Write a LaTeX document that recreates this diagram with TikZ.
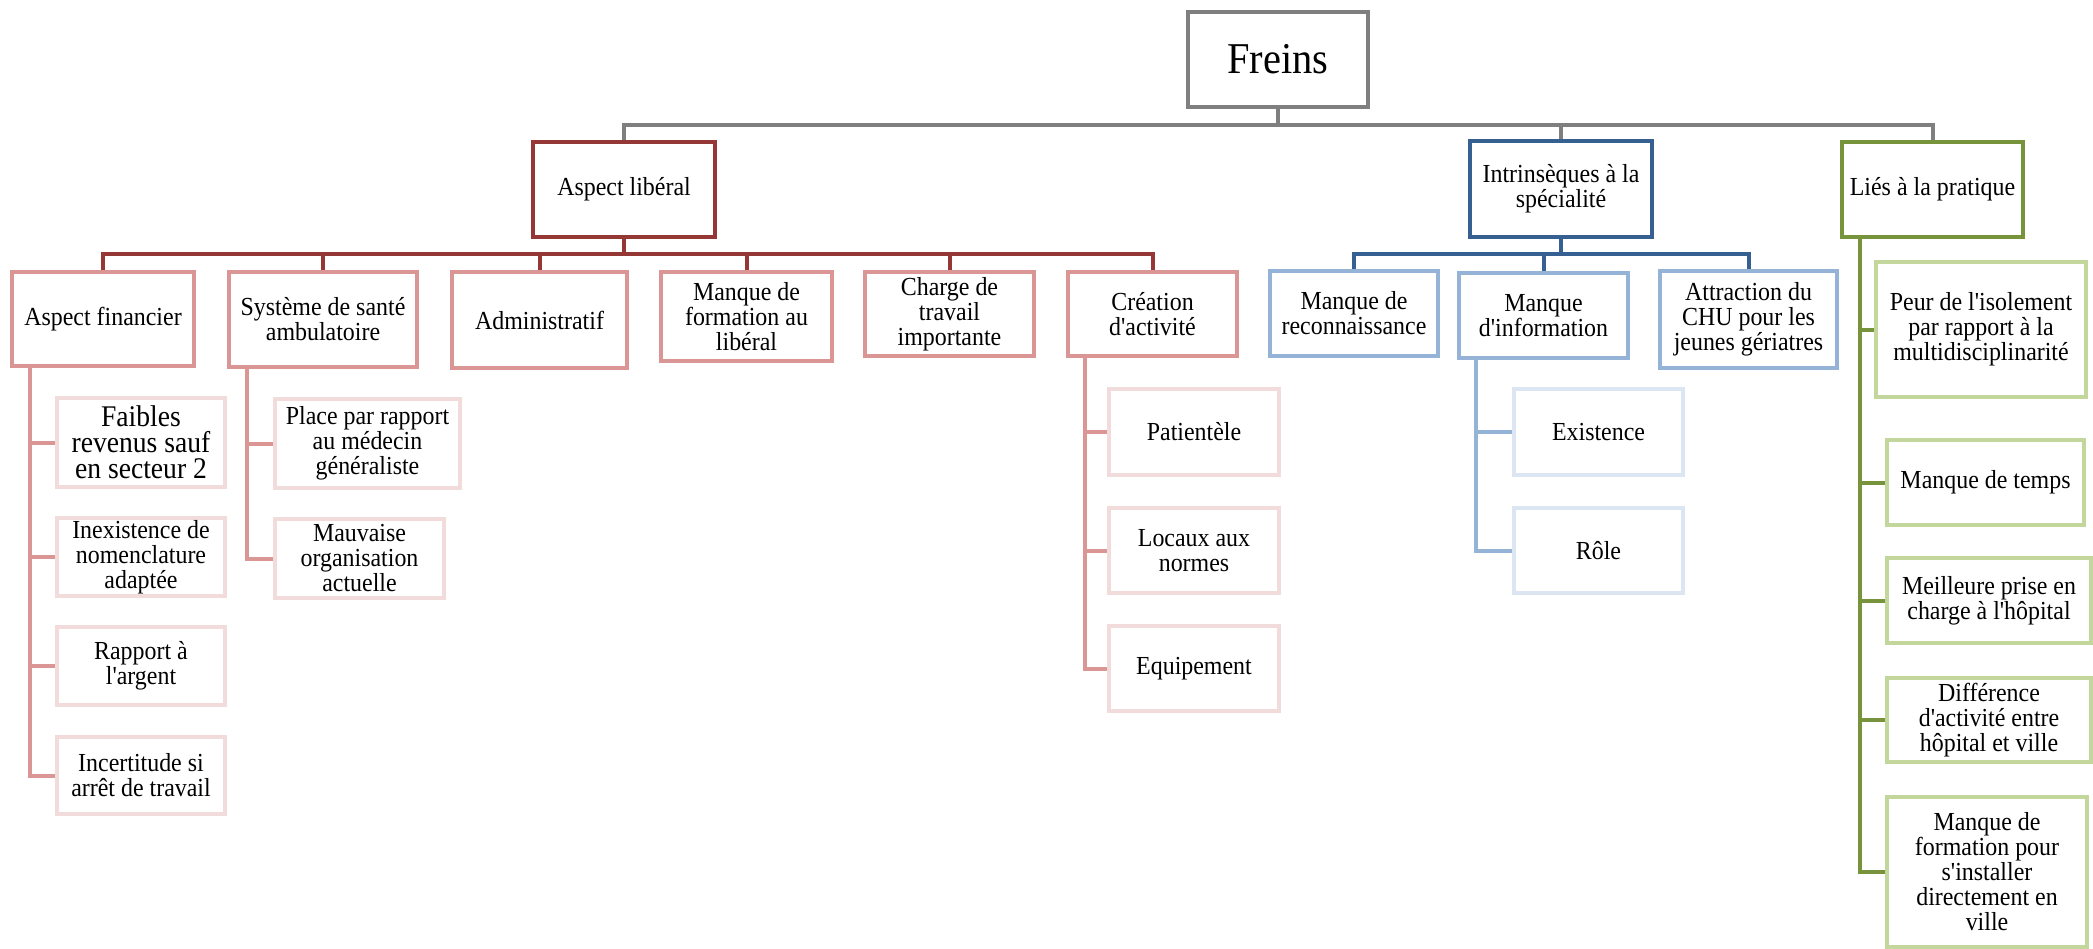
\documentclass[tikz,border=0pt]{standalone}
\usepackage{fontspec}
\setmainfont{Liberation Serif}[Ligatures=TeXOff,FakeStretch=0.92]
\definecolor{grayA}{HTML}{7F7F7F}
\definecolor{redA}{HTML}{953735}
\definecolor{redB}{HTML}{D99694}
\definecolor{redC}{HTML}{F2DCDB}
\definecolor{blueA}{HTML}{376092}
\definecolor{blueB}{HTML}{95B3D7}
\definecolor{blueC}{HTML}{DCE6F2}
\definecolor{greenA}{HTML}{77933C}
\definecolor{greenB}{HTML}{C3D69B}
\tikzset{
  box/.style={draw=#1,line width=4pt,fill=white,align=center,inner sep=0pt,
    font=\fontsize{26}{25}\selectfont},
  sz/.style 2 args={minimum width=#1pt,minimum height=#2pt},
  link/.style={draw=#1,line width=4pt},
}
\begin{document}
\begin{tikzpicture}[x=1pt,y=-1pt]
        \useasboundingbox (0,0) rectangle (2093,948);
        %root
        \node[box=grayA,sz={180}{95},font=\fontsize{44}{46}\selectfont] (freins) at (1278,59.5) {Freins};
        %first level
        \node[box=redA,sz={182}{95}] (aspect) at (624,189.5) {Aspect libéral};
        \node[box=blueA,sz={182}{96}] (intrin) at (1561,189) {Intrinsèques à la\\spécialité};
        \node[box=greenA,sz={181}{95}] (lies) at (1932.5,189.5) {Liés à la pratique};
        \foreach \c in {aspect,intrin,lies}
            \draw[link=grayA] (freins.south) -- ++(0,16) -| (\c.north);
        %aspect liberal
        \node[box=redB,sz={182}{94}] (fin) at (103,319) {Aspect financier};
        \node[box=redB,sz={188}{95}] (sys) at (323,319.5) {Système de santé\\ambulatoire};
        \node[box=redB,sz={175}{96}] (admin) at (539.5,320) {Administratif};
        \node[box=redB,sz={171}{89}] (form) at (746.5,316.5) {Manque de\\formation au\\libéral};
        \node[box=redB,sz={169}{84}] (charge) at (949.5,314) {Charge de\\travail\\importante};
        \node[box=redB,sz={169}{84}] (crea) at (1152.5,314) {Création\\d'activité};
        \foreach \c in {fin,sys,admin,form,charge,crea}
            \draw[link=redA] (aspect.south) -- ++(0,15) -| (\c.north);
        %intrinseques
        \node[box=blueB,sz={168}{85}] (recon) at (1354,313.5) {Manque de\\reconnaissance};
        \node[box=blueB,sz={169}{85}] (info) at (1543.5,315.5) {Manque\\d'information};
        \node[box=blueB,sz={177}{97}] (attr) at (1748.5,319.5) {Attraction du\\CHU pour les\\jeunes gériatres};
        \foreach \c in {recon,info,attr}
            \draw[link=blueA] (intrin.south) -- ++(0,15) -| (\c.north);
        %aspect financier
        \coordinate (finbus) at (30,0);
        \node[box=redC,sz={168}{89},font=\fontsize{30}{26}\selectfont] (faibles) at (141,442.5) {Faibles\\revenus sauf\\en secteur 2};
        \node[box=redC,sz={168}{78}] (inex) at (141,557) {Inexistence de\\nomenclature\\adaptée};
        \node[box=redC,sz={168}{78}] (rapport) at (141,666) {Rapport à\\l'argent};
        \node[box=redC,sz={168}{77}] (incert) at (141,775.5) {Incertitude si\\arrêt de travail};
        \foreach \c in {faibles,inex,rapport,incert}
            \draw[link=redB] (fin.south -| finbus) |- (\c.west);
        %systeme de sante
        \coordinate (sysbus) at (247,0);
        \node[box=redC,sz={185}{89}] (place) at (367.5,443.5) {Place par rapport\\au médecin\\généraliste};
        \node[box=redC,sz={169}{79}] (mauv) at (359.5,558.5) {Mauvaise\\organisation\\actuelle};
        \foreach \c in {place,mauv}
            \draw[link=redB] (sys.south -| sysbus) |- (\c.west);
        %creation d'activite
        \coordinate (creabus) at (1085,0);
        \node[box=redC,sz={170}{86}] (patient) at (1194,432) {Patientèle};
        \node[box=redC,sz={170}{85}] (locaux) at (1194,550.5) {Locaux aux\\normes};
        \node[box=redC,sz={170}{85}] (equip) at (1194,668.5) {Equipement};
        \foreach \c in {patient,locaux,equip}
            \draw[link=redB] (crea.south -| creabus) |- (\c.west);
        %manque d'information
        \coordinate (infobus) at (1476,0);
        \node[box=blueC,sz={169}{86}] (exist) at (1598.5,432) {Existence};
        \node[box=blueC,sz={169}{85}] (role) at (1598.5,550.5) {Rôle};
        \foreach \c in {exist,role}
            \draw[link=blueB] (info.south -| infobus) |- (\c.west);
        %lies a la pratique
        \coordinate (liesbus) at (1860,0);
        \node[box=greenB,sz={210}{135}] (peur) at (1981,329.5) {Peur de l'isolement\\par rapport à la\\multidisciplinarité};
        \node[box=greenB,sz={197}{85}] (temps) at (1985.5,482.5) {Manque de temps};
        \node[box=greenB,sz={204}{85}] (meill) at (1989,600.5) {Meilleure prise en\\charge à l'hôpital};
        \node[box=greenB,sz={204}{84}] (diff) at (1989,720) {Différence\\d'activité entre\\hôpital et ville};
        \node[box=greenB,sz={200}{150}] (formv) at (1987,872) {Manque de\\formation pour\\s'installer\\directement en\\ville};
        \foreach \c in {peur,temps,meill,diff,formv}
            \draw[link=greenA] (lies.south -| liesbus) |- (\c.west);
    \end{tikzpicture}
\end{document}
